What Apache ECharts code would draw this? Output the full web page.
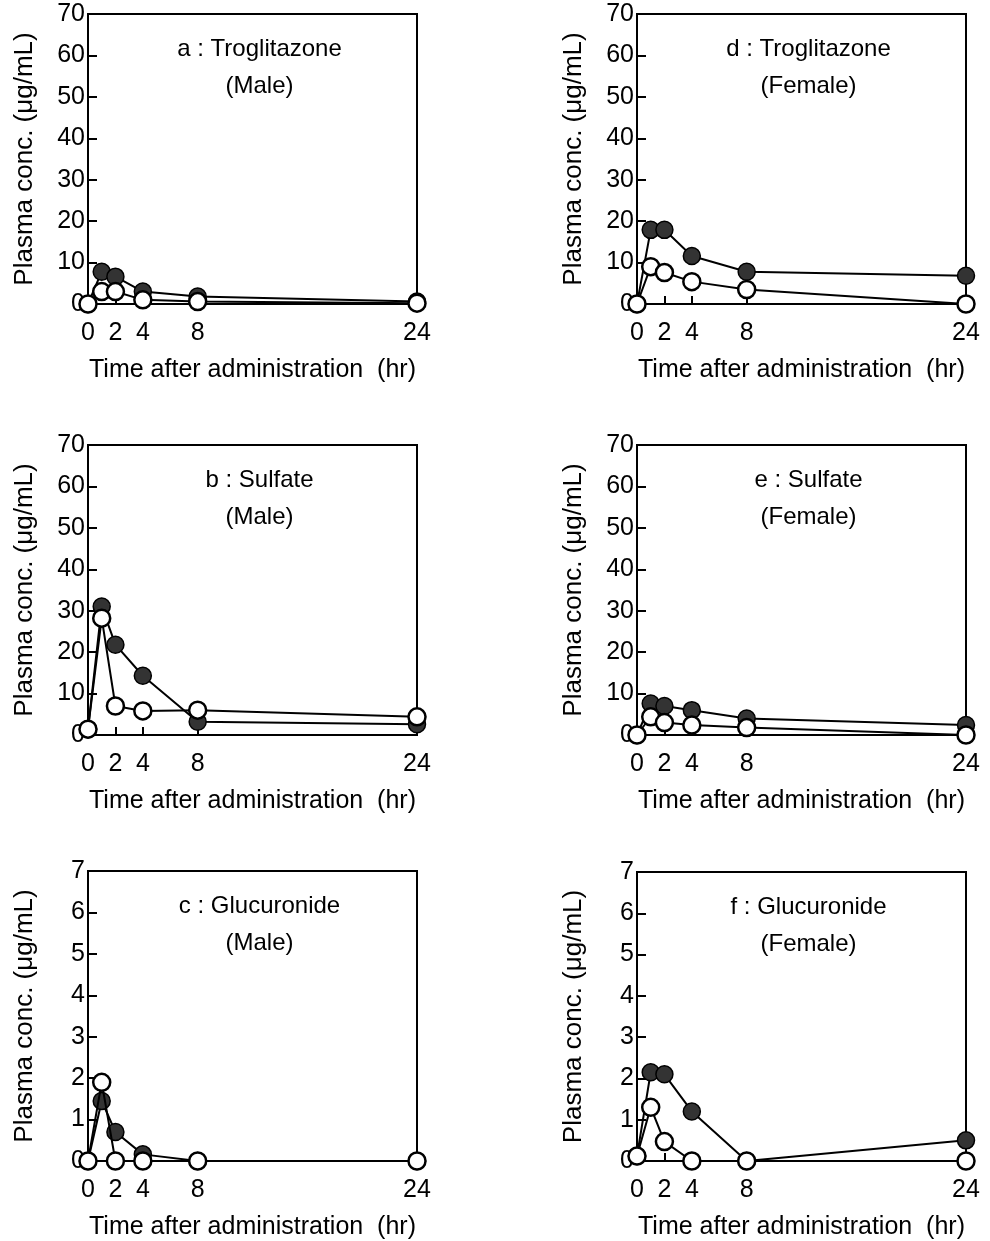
<!DOCTYPE html>
<html>
<head>
<meta charset="utf-8">
<script src="https://cdn.jsdelivr.net/npm/echarts@6.0.0/dist/echarts.min.js"></script>
<style>
  html, body { margin: 0; padding: 0; background: #fff; }
  #main-echart { width: 990px; height: 1241px; }
</style>
</head>
<body>
<div id="main-echart"></div>
<script>
// sampling times (hr) and axis ticks
const times = [0, 1, 2, 4, 8, 24];
const xTickValues = [0, 2, 4, 8, 24];

// panel headings
const panelTitles = [
  'a : Troglitazone\n(Male)',
  'b : Sulfate\n(Male)',
  'c : Glucuronide\n(Male)',
  'd : Troglitazone\n(Female)',
  'e : Sulfate\n(Female)',
  'f : Glucuronide\n(Female)'
];
const yMaxes = [70, 70, 7, 70, 70, 7];
const yIntervals = [10, 10, 1, 10, 10, 1];

// plasma conc. (ug/mL), filled circles
const troglitazoneMaleFilled = [0, 7.8, 6.6, 3.0, 1.8, 0.6];
const sulfateMaleFilled = [1.4, 31, 21.8, 14.3, 3.2, 2.6];
const glucuronideMaleFilled = [0, 1.45, 0.7, 0.16, 0, 0];
const troglitazoneFemaleFilled = [0, 17.9, 17.9, 11.6, 7.8, 6.8];
const sulfateFemaleFilled = [0, 7.6, 7.0, 6.0, 4.0, 2.4];
const glucuronideFemaleFilled = [0.12, 2.15, 2.1, 1.2, 0, 0.5];

// plasma conc. (ug/mL), open circles
const troglitazoneMaleOpen = [0, 3.0, 3.0, 1.0, 0.6, 0.2];
const sulfateMaleOpen = [1.4, 28.2, 7.0, 5.8, 6.0, 4.4];
const glucuronideMaleOpen = [0, 1.9, 0, 0, 0, 0];
const troglitazoneFemaleOpen = [0, 9.0, 7.6, 5.4, 3.5, 0];
const sulfateFemaleOpen = [0, 4.4, 3.0, 2.4, 1.8, 0];
const glucuronideFemaleOpen = [0.12, 1.3, 0.47, 0, 0, 0];

const filledSets = [troglitazoneMaleFilled, sulfateMaleFilled, glucuronideMaleFilled,
  troglitazoneFemaleFilled, sulfateFemaleFilled, glucuronideFemaleFilled];
const openSets = [troglitazoneMaleOpen, sulfateMaleOpen, glucuronideMaleOpen,
  troglitazoneFemaleOpen, sulfateFemaleOpen, glucuronideFemaleOpen];

// layout
const lefts = [88, 88, 88, 637, 637, 637];
const tops = [14, 445, 871, 14, 445, 872];
const plotW = 329;
const plotH = 290;
const font = 'Arial, "Liberation Sans", sans-serif';

let myChart = echarts.init(document.getElementById('main-echart'));

const grids = [], xAxes = [], yAxes = [], series = [], titles = [];

for (let i = 0; i < 6; i++) {
  grids.push({
    left: lefts[i], top: tops[i], width: plotW, height: plotH,
    show: true, borderColor: '#000', borderWidth: 2, backgroundColor: 'transparent'
  });
  xAxes.push({
    type: 'value', gridIndex: i, min: 0, max: 24,
    name: 'Time after administration  (hr)',
    nameLocation: 'middle', nameGap: 54,
    nameTextStyle: { fontFamily: font, fontSize: 25, color: '#000' },
    axisLine: { lineStyle: { color: '#000', width: 2 } },
    axisTick: { inside: true, length: 8, customValues: xTickValues, lineStyle: { color: '#000', width: 2 } },
    axisLabel: { customValues: xTickValues, margin: 17, fontFamily: font, fontSize: 25, color: '#000' },
    splitLine: { show: false }
  });
  yAxes.push({
    type: 'value', gridIndex: i, min: 0, max: yMaxes[i], interval: yIntervals[i],
    name: 'Plasma conc. (\u03bcg/mL)',
    nameLocation: 'middle', nameGap: 50,
    nameTextStyle: { fontFamily: font, fontSize: 26, color: '#000' },
    axisLine: { lineStyle: { color: '#000', width: 2 } },
    axisTick: { inside: true, length: 9, lineStyle: { color: '#000', width: 2 } },
    axisLabel: { margin: 3, fontFamily: font, fontSize: 25, color: '#000' },
    splitLine: { show: false }
  });
  titles.push({
    text: panelTitles[i],
    left: lefts[i] + plotW / 2 + 2, top: tops[i] + 12, textAlign: 'center',
    textStyle: { fontFamily: font, fontSize: 24, fontWeight: 'normal', color: '#000', lineHeight: 37, align: 'center' }
  });
  series.push({
    type: 'line', xAxisIndex: i, yAxisIndex: i, z: 3,
    data: times.map((t, k) => [t, filledSets[i][k]]),
    symbol: 'circle', symbolSize: 17,
    lineStyle: { color: '#000', width: 2 },
    itemStyle: { color: '#333', borderColor: '#000', borderWidth: 1.5 }
  });
  series.push({
    type: 'line', xAxisIndex: i, yAxisIndex: i, z: 4,
    data: times.map((t, k) => [t, openSets[i][k]]),
    symbol: 'circle', symbolSize: 17,
    lineStyle: { color: '#000', width: 2 },
    itemStyle: { color: '#fff', borderColor: '#000', borderWidth: 2.5 }
  });
}

let option = {
  animation: false,
  backgroundColor: '#fff',
  title: titles,
  grid: grids,
  xAxis: xAxes,
  yAxis: yAxes,
  series: series
};

myChart.setOption(option);
</script>
</body>
</html>
